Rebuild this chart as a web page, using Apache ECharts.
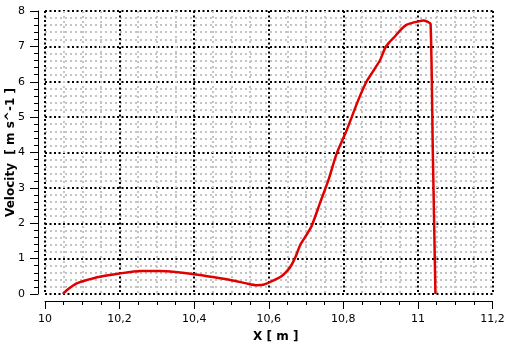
<!DOCTYPE html>
<html><head><meta charset="utf-8">
<script src="https://cdn.jsdelivr.net/npm/echarts@6/dist/echarts.min.js"></script>
<style>html,body{margin:0;padding:0;background:#fff}#c{width:512px;height:349px}</style>
</head><body><div id="c"></div>
<script>
var xName = 'X [ m ]';
var yName = 'Velocity  [ m s^-1 ]';
var xPos = [10.048,10.06,10.085,10.11,10.147,10.2,10.255,10.308,10.35,10.4,10.45,10.5,10.54,10.568,10.585,10.6,10.62,10.635,10.65,10.661,10.672,10.684,10.70,10.715,10.737,10.76,10.782,10.809,10.84,10.862,10.88,10.898,10.912,10.922,10.94,10.955,10.968,10.98,11.0,11.014,11.025,11.034,11.04,11.047];
var velocity = [0,0.12,0.30,0.39,0.49,0.58,0.65,0.65,0.62,0.56,0.48,0.39,0.30,0.25,0.26,0.32,0.42,0.51,0.66,0.82,1.05,1.38,1.65,1.92,2.56,3.22,3.97,4.63,5.48,6.0,6.3,6.6,6.95,7.1,7.3,7.48,7.6,7.65,7.7,7.73,7.7,7.63,4.0,0];
var xTicks = {min:10, max:11.2, interval:0.2};
var yTicks = {min:0, max:8, interval:1};

var data = xPos.map(function(x,i){return [x, velocity[i]];});
var font = 'DejaVu Sans';
var chart = echarts.init(document.getElementById('c'));
var major = {show:true, lineStyle:{color:'#000', type:[2,2.5], width:2}};
var minor = {show:true, lineStyle:{color:'#c4c4c4', type:[2,3], width:2}};
var hidden = {axisLine:{show:false}, axisTick:{show:false}, axisLabel:{show:false}, minorTick:{show:false}};
function xFmt(v){return String(Math.round(v*10)/10).replace('.',',');}
chart.setOption({
  animation:false,
  grid:[
    {left:45, right:19.5, top:11, bottom:55, outerBoundsMode:'none'},
    {left:38, right:19.5, top:11, bottom:55, outerBoundsMode:'none'},
    {left:45, right:19.5, top:11, bottom:48, outerBoundsMode:'none'}
  ],
  xAxis:[
    Object.assign({gridIndex:0, type:'value', min:xTicks.min, max:xTicks.max, interval:xTicks.interval,
      splitLine:major, minorSplitLine:minor, minorTick:{show:false, splitNumber:4}}, hidden, {minorTick:{show:false, splitNumber:4}}),
    {gridIndex:1, type:'value', min:0, max:1, show:false},
    {gridIndex:2, type:'value', min:xTicks.min, max:xTicks.max, interval:xTicks.interval,
      name:xName, nameLocation:'middle', nameGap:30,
      nameTextStyle:{color:'#000', fontFamily:font, fontSize:12, fontWeight:'bold', padding:[0,0,0,14]},
      axisLine:{show:true, onZero:false, lineStyle:{color:'#000', width:1}},
      axisTick:{show:true, length:8, lineStyle:{color:'#000', width:1}},
      minorTick:{show:true, splitNumber:4, length:4, lineStyle:{color:'#000', width:1}},
      splitLine:{show:false}, minorSplitLine:{show:false},
      axisLabel:{margin:13, color:'#000', fontFamily:font, fontSize:11, formatter:xFmt}}
  ],
  yAxis:[
    Object.assign({gridIndex:0, type:'value', min:yTicks.min, max:yTicks.max, interval:yTicks.interval,
      splitLine:major, minorSplitLine:minor}, hidden, {minorTick:{show:false, splitNumber:5}}),
    {gridIndex:1, type:'value', min:yTicks.min, max:yTicks.max, interval:yTicks.interval,
      name:yName, nameLocation:'middle', nameGap:21, nameMoveOverlap:false,
      nameTextStyle:{color:'#000', fontFamily:font, fontSize:12, fontWeight:'bold'},
      axisLine:{show:true, onZero:false, lineStyle:{color:'#000', width:1}},
      axisTick:{show:true, length:8, lineStyle:{color:'#000', width:1}},
      minorTick:{show:true, splitNumber:5, length:4, lineStyle:{color:'#000', width:1}},
      splitLine:{show:false}, minorSplitLine:{show:false},
      axisLabel:{margin:13, color:'#000', fontFamily:font, fontSize:11}},
    {gridIndex:2, type:'value', min:0, max:1, show:false}
  ],
  series:[{type:'line', xAxisIndex:0, yAxisIndex:0, data:data, showSymbol:false, smooth:0.2,
    lineStyle:{color:'#e00000', width:2.5}, clip:false}]
});
</script></body></html>
